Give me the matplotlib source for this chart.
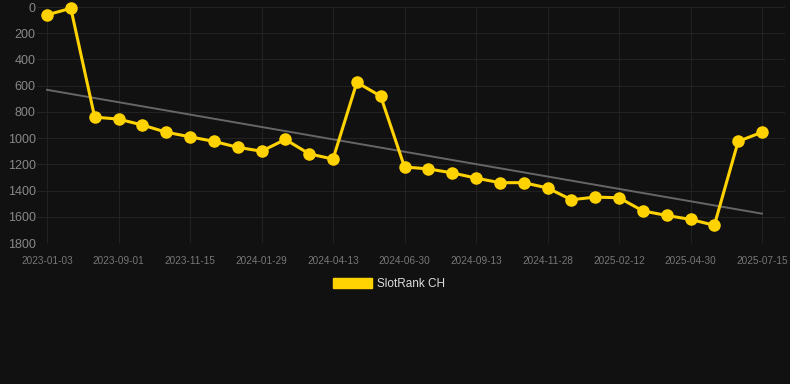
import numpy as np
import matplotlib
matplotlib.use("Agg")
import matplotlib.pyplot as plt
from matplotlib.patches import Patch

plt.rcParams['font.family'] = ['Liberation Sans', 'DejaVu Sans']

# data (rank, lower is better)
ranks = [60, 10, 840, 855, 900, 955, 990, 1025, 1070, 1100, 1010, 1120, 1160,
         575, 680, 1220, 1235, 1265, 1305, 1340, 1340, 1380, 1470, 1450, 1455,
         1555, 1590, 1620, 1665, 1025, 955]
tick_labels = ['2023-01-03', '2023-09-01', '2023-11-15', '2024-01-29', '2024-04-13',
               '2024-06-30', '2024-09-13', '2024-11-28', '2025-02-12', '2025-04-30',
               '2025-07-15']
series_name = 'SlotRank CH'
y_ticks = [0, 200, 400, 600, 800, 1000, 1200, 1400, 1600, 1800]

bg = '#111111'
yellow = '#FFD301'
W, H = 790, 384

fig = plt.figure(figsize=(W / 100, H / 100), dpi=100, facecolor=bg)
# axes spans pixel x 37..785, y 7..243
ax = fig.add_axes([37 / W, 1 - 243 / H, (785 - 37) / W, (243 - 7) / H], facecolor=bg)

x = np.arange(len(ranks))
px_per_unit = (762 - 47) / (len(ranks) - 1)
ax.set_xlim(-10 / px_per_unit, (len(ranks) - 1) + 23 / px_per_unit)
ax.set_ylim(1800, 0)

# trend line (linear fit)
coef = np.polyfit(x, ranks, 1)
ax.plot(x, np.polyval(coef, x), color='#666666', lw=1.4, zorder=2)

ax.plot(x, ranks, color=yellow, lw=2.2, marker='o', markersize=8,
        clip_on=False, zorder=3)

ax.set_xticks(x[::3])
ax.set_xticklabels(tick_labels)
ax.set_yticks(y_ticks)
ax.set_yticklabels([str(v) for v in y_ticks])
ax.tick_params(axis='x', colors='#777777', labelsize=7.2, length=0, pad=9)
ax.tick_params(axis='y', colors='#888888', labelsize=9, length=0, pad=1)
ax.grid(True, color='#222222', lw=0.8)
for s in ax.spines.values():
    s.set_visible(False)

handle = Patch(facecolor=yellow, edgecolor=yellow)
leg = fig.legend([handle], [series_name], loc='center',
                 bbox_to_anchor=(389 / W, 1 - 284 / H), frameon=False,
                 fontsize=8.5, handlelength=3.3, handleheight=1.0,
                 handletextpad=0.5, labelcolor='#dddddd')

fig.savefig('out.png', dpi=100, facecolor=bg)
